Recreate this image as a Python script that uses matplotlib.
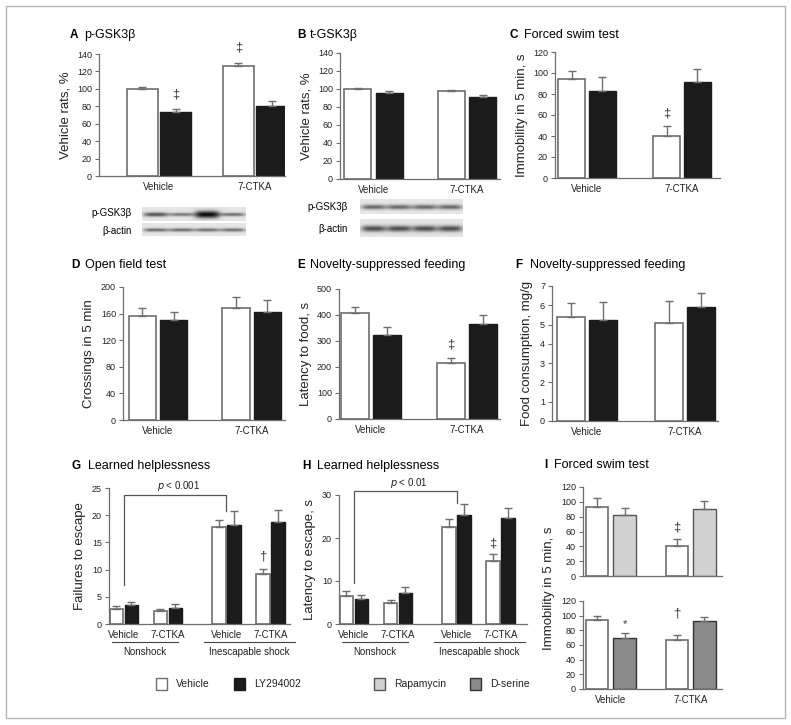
import numpy as np
import matplotlib
matplotlib.use('Agg')
import matplotlib.pyplot as plt
from matplotlib.patches import Rectangle
import matplotlib.transforms as mtransforms

plt.rcParams['font.family'] = ['Liberation Sans', 'DejaVu Sans']

W, H = 791, 725

# ---------------- data ----------------
groups2 = ['Vehicle', '7-CTKA']
groups4 = ['Vehicle', '7-CTKA', 'Vehicle', '7-CTKA']
shock_groups = ['Nonshock', 'Inescapable shock']

A_veh = [100, 126]
A_veh_err = [2, 4]
A_ly = [73.5, 80.5]
A_ly_err = [3, 5]

B_veh = [100, 97.5]
B_veh_err = [1.5, 1.5]
B_ly = [96, 91]
B_ly_err = [2, 2.5]

C_veh = [94, 40]
C_veh_err = [7.5, 9.5]
C_ly = [83, 91]
C_ly_err = [13.5, 12.8]

D_veh = [157, 168]
D_veh_err = [12, 16.5]
D_ly = [151, 162]
D_ly_err = [11, 18]

E_veh = [408, 215]
E_veh_err = [22, 20]
E_ly = [323, 366]
E_ly_err = [32, 33]

F_veh = [5.4, 5.1]
F_veh_err = [0.7, 1.1]
F_ly = [5.23, 5.92]
F_ly_err = [0.96, 0.74]

G_veh = [2.8, 2.3, 17.9, 9.2]
G_veh_err = [0.5, 0.4, 1.3, 1.0]
G_ly = [3.5, 3.0, 18.2, 18.7]
G_ly_err = [0.6, 0.7, 2.5, 2.2]

H_veh = [6.6, 4.8, 22.5, 14.7]
H_veh_err = [1.1, 0.7, 1.9, 1.6]
H_ly = [5.7, 7.2, 25.3, 24.7]
H_ly_err = [1.0, 1.4, 2.6, 2.3]

I_top_veh = [93.5, 40]
I_top_veh_err = [12, 10]
I_rapa = [82, 91]
I_rapa_err = [10, 9.5]

I_bot_veh = [93.5, 67.5]
I_bot_veh_err = [5.5, 5.5]
I_dser = [70, 92.5]
I_dser_err = [6, 6]

legend_labels = ['Vehicle', 'LY294002', 'Rapamycin', 'D-serine']

# ---------------- style ----------------
EDGE = '#6e6e6e'
BLACK = '#1b1b1b'
RAPA = '#d2d2d2'
DSER = '#8a8a8a'

fig = plt.figure(figsize=(W / 100, H / 100), dpi=100)


def add_ax(x0, x1, ytop, ybot):
    return fig.add_axes([x0 / W, 1 - ybot / H, (x1 - x0) / W, (ybot - ytop) / H])


def style(ax, ylim, yticks, ylabel=None, labelpad=4):
    for s in ['top', 'right']:
        ax.spines[s].set_visible(False)
    for s in ['left', 'bottom']:
        ax.spines[s].set_color(EDGE)
        ax.spines[s].set_linewidth(0.9)
    ax.set_ylim(*ylim)
    ax.set_yticks(yticks)
    ax.tick_params(axis='y', direction='out', length=3, width=0.8, color=EDGE,
                   labelsize=6.5, pad=2, labelcolor='#222222')
    ax.tick_params(axis='x', length=0, labelsize=7, pad=4, labelcolor='#222222')
    if ylabel:
        ax.set_ylabel(ylabel, fontsize=9.5, labelpad=labelpad, color='#222222')


def bars(ax, pos, v1, e1, v2, e2, width, off, c2, edge2):
    pos = np.asarray(pos, dtype=float)
    ax.bar(pos - off, v1, width, color='white', edgecolor=EDGE, linewidth=1.2, zorder=2)
    ax.bar(pos + off, v2, width, color=c2, edgecolor=edge2, linewidth=1.0, zorder=2)
    z = np.zeros(len(v1))
    ax.errorbar(pos - off, v1, yerr=[z, e1], fmt='none', ecolor=EDGE,
                elinewidth=1, capsize=2.8, capthick=1, zorder=3)
    ax.errorbar(pos + off, v2, yerr=[z, e2], fmt='none', ecolor=EDGE,
                elinewidth=1, capsize=2.8, capthick=1, zorder=3)


def mark(ax, x, y, s, fs=9.5):
    ax.text(x, y, s, ha='center', va='center', fontsize=fs, color='#333333')


def title(xl, xt, y, letter, text):
    fig.text(xl / W, 1 - y / H, letter, fontsize=8.5, fontweight='bold', va='center', ha='left')
    fig.text(xt / W, 1 - y / H, text, fontsize=9, va='center', ha='left')


pos2 = [0, 1]

# ---------------- A ----------------
ax = add_ax(99, 285, 54, 176)
bars(ax, pos2, A_veh, A_veh_err, A_ly, A_ly_err, 0.32, 0.172, BLACK, BLACK)
ax.set_xlim(-0.625, 1.3125)
ax.set_xticks(pos2, groups2)
style(ax, (0, 140), range(0, 141, 20), 'Vehicle rats, %')
mark(ax, 0.172, 94, '‡')
mark(ax, -0.172 + 1, 147, '‡')
title(70, 84, 35, 'A', 'p-GSK3β')

# ---------------- B ----------------
ax = add_ax(340, 500, 53, 179)
bars(ax, pos2, B_veh, B_veh_err, B_ly, B_ly_err, 0.289, 0.168, BLACK, BLACK)
ax.set_xlim(-0.358, 1.353)
ax.set_xticks(pos2, groups2)
style(ax, (0, 140), range(0, 141, 20), 'Vehicle rats, %')
title(297, 310, 35, 'B', 't-GSK3β')

# ---------------- C ----------------
ax = add_ax(555, 720, 52, 178)
bars(ax, pos2, C_veh, C_veh_err, C_ly, C_ly_err, 0.284, 0.163, BLACK, BLACK)
ax.set_xlim(-0.337, 1.4)
ax.set_xticks(pos2, groups2)
style(ax, (0, 120), range(0, 121, 20), 'Immobility in 5 min, s')
mark(ax, 1 - 0.163, 61, '‡')
title(510, 524, 35, 'C', 'Forced swim test')

# ---------------- D ----------------
ax = add_ax(123, 285, 287, 420)
bars(ax, pos2, D_veh, D_veh_err, D_ly, D_ly_err, 0.289, 0.166, BLACK, BLACK)
ax.set_xlim(-0.374, 1.358)
ax.set_xticks(pos2, groups2)
style(ax, (0, 200), range(0, 201, 40), 'Crossings in 5 min')
title(71, 85, 265, 'D', 'Open field test')

# ---------------- E ----------------
ax = add_ax(339, 500, 289, 419)
bars(ax, pos2, E_veh, E_veh_err, E_ly, E_ly_err, 0.29, 0.167, BLACK, BLACK)
ax.set_xlim(-0.333, 1.344)
ax.set_xticks(pos2, groups2)
style(ax, (0, 500), range(0, 501, 100), 'Latency to food, s')
mark(ax, 1 - 0.167, 288, '‡')
title(297, 310, 265, 'E', 'Novelty-suppressed feeding')

# ---------------- F ----------------
ax = add_ax(552, 718, 286, 421)
bars(ax, pos2, F_veh, F_veh_err, F_ly, F_ly_err, 0.286, 0.163, BLACK, BLACK)
ax.set_xlim(-0.357, 1.337)
ax.set_xticks(pos2, groups2)
style(ax, (0, 7), range(0, 8), 'Food consumption, mg/g', labelpad=5)
title(515, 530, 265, 'F', 'Novelty-suppressed feeding')

# ---------------- G / H ----------------
pos4 = [0, 1, 2.33, 3.33]


def group_labels(ax):
    base = mtransforms.blended_transform_factory(ax.transData, ax.transAxes)
    tl = base + mtransforms.ScaledTranslation(0, -18 / 100, fig.dpi_scale_trans)
    tt = base + mtransforms.ScaledTranslation(0, -28 / 100, fig.dpi_scale_trans)
    spans = [(pos4[0] - 0.27, pos4[1] + 0.22), (pos4[2] - 0.52, pos4[3] + 0.55)]
    for (a, b), name in zip(spans, shock_groups):
        ax.plot([a, b], [0, 0], color='#444444', lw=0.8, transform=tl, clip_on=False)
        ax.text((a + b) / 2, 0, name, transform=tt, ha='center', va='center',
                fontsize=7, color='#222222')


def bracket(ax, x0, x1, y0, ytop, y1, label, ytext):
    ax.plot([x0, x0, x1, x1], [y0, ytop, ytop, y1], color='#555555', lw=0.9,
            clip_on=False, zorder=4)
    ax.text((x0 + x1) / 2 + 0.08, ytext, label, ha='center', va='bottom',
            fontsize=7, color='#222222')


ax = add_ax(109, 290, 488, 624)
bars(ax, pos4, G_veh, G_veh_err, G_ly, G_ly_err, 0.307, 0.17, BLACK, BLACK)
ax.set_xlim(-0.34, 3.775)
ax.set_xticks(pos4, groups4)
style(ax, (0, 25), range(0, 26, 5), 'Failures to escape')
group_labels(ax)
bracket(ax, pos4[0], pos4[2], 7.1, 23.8, 20.7, r'$\it{p}$ < 0.001', 24.1)
mark(ax, pos4[3] - 0.17, 12.4, '†')
title(71, 88, 466, 'G', 'Learned helplessness')

ax = add_ax(339, 527, 495, 624)
bars(ax, pos4, H_veh, H_veh_err, H_ly, H_ly_err, 0.3, 0.17, BLACK, BLACK)
ax.set_xlim(-0.34, 3.93)
ax.set_xticks(pos4, groups4)
style(ax, (0, 30), [0, 10, 20, 30], 'Latency to escape, s')
group_labels(ax)
bracket(ax, pos4[0], pos4[2], 9.5, 30.9, 28.2, r'$\it{p}$ < 0.01', 31.2)
mark(ax, pos4[3] - 0.17, 18.8, '‡')
title(302, 317, 466, 'H', 'Learned helplessness')

# ---------------- I ----------------
ax = add_ax(583, 722, 487, 576)
bars(ax, pos2, I_top_veh, I_top_veh_err, I_rapa, I_rapa_err, 0.283, 0.173, RAPA, '#555555')
ax.set_xlim(-0.352, 1.396)
ax.set_xticks(pos2, ['', ''])
style(ax, (0, 120), range(0, 121, 20))
mark(ax, 1 - 0.173, 65, '‡')

ax = add_ax(583, 722, 601, 689)
bars(ax, pos2, I_bot_veh, I_bot_veh_err, I_dser, I_dser_err, 0.283, 0.173, DSER, '#333333')
ax.set_xlim(-0.352, 1.396)
ax.set_xticks(pos2, groups2)
style(ax, (0, 120), range(0, 121, 20))
mark(ax, 0.173, 88, '*', fs=8)
mark(ax, 1 - 0.173, 103, '†')
fig.text(549 / W, 1 - 588 / H, 'Immobility in 5 min, s', rotation=90, fontsize=9.5,
         ha='center', va='center', color='#222222')
title(544, 554, 465, 'I', 'Forced swim test')

# ---------------- Western blots ----------------


def blot_img(intens, widths, h=14, w=103):
    yy, xx = np.mgrid[0:h, 0:w]
    img = np.full((h, w), 0.9)
    centers = np.linspace(0.13, 0.87, len(intens)) * w
    for c, a, s in zip(centers, intens, widths):
        img -= a * np.exp(-((xx - c) / (w * 0.12)) ** 4) * np.exp(-((yy - h / 2) / s) ** 2)
    return np.clip(img, 0, 1)


def blot(x0, x1, ytop, ybot, intens, widths):
    bax = add_ax(x0, x1, ytop, ybot)
    bax.imshow(blot_img(intens, widths), cmap='gray', vmin=0, vmax=1, aspect='auto',
               interpolation='bilinear')
    bax.axis('off')


blot(142, 245, 207, 221, [0.55, 0.42, 0.85, 0.45], [2.2, 1.8, 3.6, 1.8])
blot(142, 245, 223, 236, [0.5, 0.5, 0.48, 0.48], [1.8, 1.8, 1.8, 1.8])
fig.text(132 / W, 1 - 213 / H, 'p-GSK3β', ha='right', va='center', fontsize=7)
fig.text(132 / W, 1 - 231 / H, 'β-actin', ha='right', va='center', fontsize=7)

blot(360, 463, 199, 214, [0.5, 0.5, 0.5, 0.5], [2.2, 2.2, 2.2, 2.2])
blot(360, 463, 219, 237, [0.6, 0.6, 0.6, 0.6], [2.4, 2.4, 2.4, 2.4])
fig.text(348 / W, 1 - 207 / H, 'p-GSK3β', ha='right', va='center', fontsize=7)
fig.text(348 / W, 1 - 229 / H, 'β-actin', ha='right', va='center', fontsize=7)

# ---------------- legend ----------------
leg_colors = [('white', EDGE), (BLACK, BLACK), (RAPA, '#555555'), (DSER, '#333333')]
leg_x = [156, 234, 374, 470]
for (fc, ec), lx, lab in zip(leg_colors, leg_x, legend_labels):
    fig.patches.append(Rectangle((lx / W, 1 - 690 / H), 11 / W, 12 / H,
                                 transform=fig.transFigure, facecolor=fc,
                                 edgecolor=ec, linewidth=1))
    fig.text((lx + 20) / W, 1 - 684 / H, lab, va='center', ha='left', fontsize=7.5,
             color='#222222')

# frame
fig.patches.append(Rectangle((6 / W, 1 - 718 / H), 779 / W, 712 / H,
                             transform=fig.transFigure, fill=False,
                             edgecolor='#b5b5b5', linewidth=1))

fig.savefig('out.png', dpi=100)
